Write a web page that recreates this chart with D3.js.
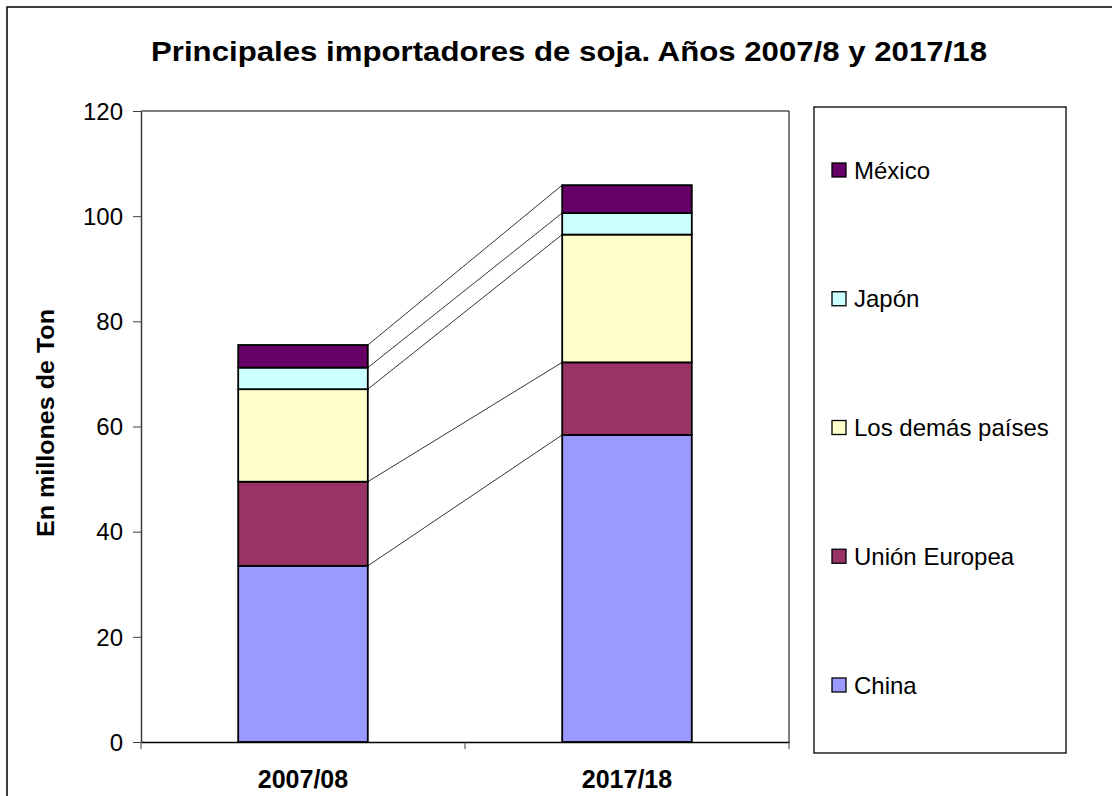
<!DOCTYPE html>
<html><head><meta charset="utf-8">
<script src="https://cdn.jsdelivr.net/npm/d3@7"></script>
<style>body{margin:0;background:#fff;}svg{display:block;font-family:"Liberation Sans",Arial,sans-serif;}</style>
</head><body>
<svg id="c" width="1112" height="796"></svg>
<script>
const categories = ["2007/08", "2017/18"];
const seriesNames = ["China", "Unión Europea", "Los demás países", "Japón", "México"];
const china = [33.5, 58.4];
const unionEuropea = [16.0, 13.8];
const losDemas = [17.6, 24.3];
const japon = [4.1, 4.1];
const mexico = [4.3, 5.3];
const seriesColors = ["#9999FF", "#993366", "#FFFFCC", "#CCFFFF", "#660066"];
const yTicks = [0, 20, 40, 60, 80, 100, 120];
const title = "Principales importadores de soja. Años 2007/8 y 2017/18";
const yTitle = "En millones de Ton";

const seriesValues = [china, unionEuropea, losDemas, japon, mexico];
const rows = categories.map((c, i) => {
  const r = {cat: c};
  seriesNames.forEach((s, j) => r[s] = seriesValues[j][i]);
  return r;
});
const stacked = d3.stack().keys(seriesNames)(rows);

const svg = d3.select("#c");
const FONT = "Liberation Sans, Arial, sans-serif";
const L = 141, R = 789, T = 111, B = 742;

// outer border
svg.append("rect").attr("x", 7).attr("y", 7).attr("width", 1120).attr("height", 820)
  .attr("fill", "#fff").attr("stroke", "#000").attr("stroke-width", 1.5);

const x = d3.scaleBand().domain(categories).range([L, R]).padding(0);
const barW = x.bandwidth() / 2.5;
const y = d3.scaleLinear().domain([0, 120]).range([B, T]);
const color = d3.scaleOrdinal().domain(seriesNames).range(seriesColors);

// plot frame (top & right)
svg.append("line").attr("x1", L).attr("x2", R).attr("y1", T).attr("y2", T).attr("stroke", "#000").attr("stroke-width", 1);
svg.append("line").attr("x1", R).attr("x2", R).attr("y1", T).attr("y2", B).attr("stroke", "#000").attr("stroke-width", 1);

// title
svg.append("text").attr("x", 569).attr("y", 61).attr("text-anchor", "middle")
  .attr("font-size", 28).attr("font-weight", "bold")
  .attr("textLength", 836).attr("lengthAdjust", "spacingAndGlyphs").text(title);

// y title
svg.append("text").attr("transform", "translate(54,423) rotate(-90)").attr("text-anchor", "middle")
  .attr("font-size", 24).attr("font-weight", "bold")
  .attr("textLength", 228).attr("lengthAdjust", "spacingAndGlyphs").text(yTitle);

// bars
const bx = c => x(c) + (x.bandwidth() - barW) / 2;
svg.append("g").selectAll("g").data(stacked).join("g")
  .attr("fill", d => color(d.key))
  .selectAll("rect").data(d => d).join("rect")
  .attr("x", d => bx(d.data.cat))
  .attr("y", d => y(d[1]))
  .attr("width", barW)
  .attr("height", d => y(d[0]) - y(d[1]))
  .attr("stroke", "#000").attr("stroke-width", 1.8);

// series lines
svg.append("g").selectAll("line").data(stacked).join("line")
  .attr("x1", bx(categories[0]) + barW)
  .attr("x2", bx(categories[1]))
  .attr("y1", d => y(d[0][1]))
  .attr("y2", d => y(d[1][1]))
  .attr("stroke", "#000").attr("stroke-width", 0.8);

// y axis
const ya = svg.append("g").attr("transform", `translate(${L},0)`)
  .call(d3.axisLeft(y).tickValues(yTicks).tickSize(8).tickPadding(10).tickSizeOuter(0));
ya.select(".domain").attr("stroke", "#404040").attr("stroke-width", 1.5);
ya.selectAll(".tick line").attr("stroke", "#404040").attr("stroke-width", 1);
ya.selectAll(".tick text").attr("font-size", 24).attr("font-family", FONT).attr("fill", "#000").attr("dy", "0.34em");

// x axis
const xa = svg.append("g").attr("transform", `translate(0,${B})`)
  .call(d3.axisBottom(x).tickSize(0).tickPadding(0).tickSizeOuter(0));
xa.select(".domain").attr("stroke", "#000").attr("stroke-width", 1.5);
xa.selectAll(".tick text").attr("font-size", 25).attr("font-weight", "bold")
  .attr("font-family", FONT).attr("fill", "#000").attr("dy", null).attr("y", 46);
const xTickPos = [L, (L + R) / 2, R];
svg.append("g").selectAll("line").data(xTickPos).join("line")
  .attr("x1", d => d).attr("x2", d => d).attr("y1", B).attr("y2", B + 7)
  .attr("stroke", "#404040").attr("stroke-width", 1);

// legend
svg.append("rect").attr("x", 814).attr("y", 107).attr("width", 252).attr("height", 646)
  .attr("fill", "#fff").attr("stroke", "#000").attr("stroke-width", 1.3);
const ly = d3.scalePoint().domain(seriesNames.slice().reverse()).range([170, 685]);
const lg = svg.append("g").selectAll("g").data(seriesNames).join("g")
  .attr("transform", d => `translate(832,${ly(d)})`);
lg.append("rect").attr("x", 0).attr("y", -7).attr("width", 14).attr("height", 14)
  .attr("fill", d => color(d)).attr("stroke", "#000").attr("stroke-width", 1.3);
lg.append("text").attr("x", 22).attr("y", 8.5).attr("font-size", 24).text(d => d);
</script>
</body></html>
